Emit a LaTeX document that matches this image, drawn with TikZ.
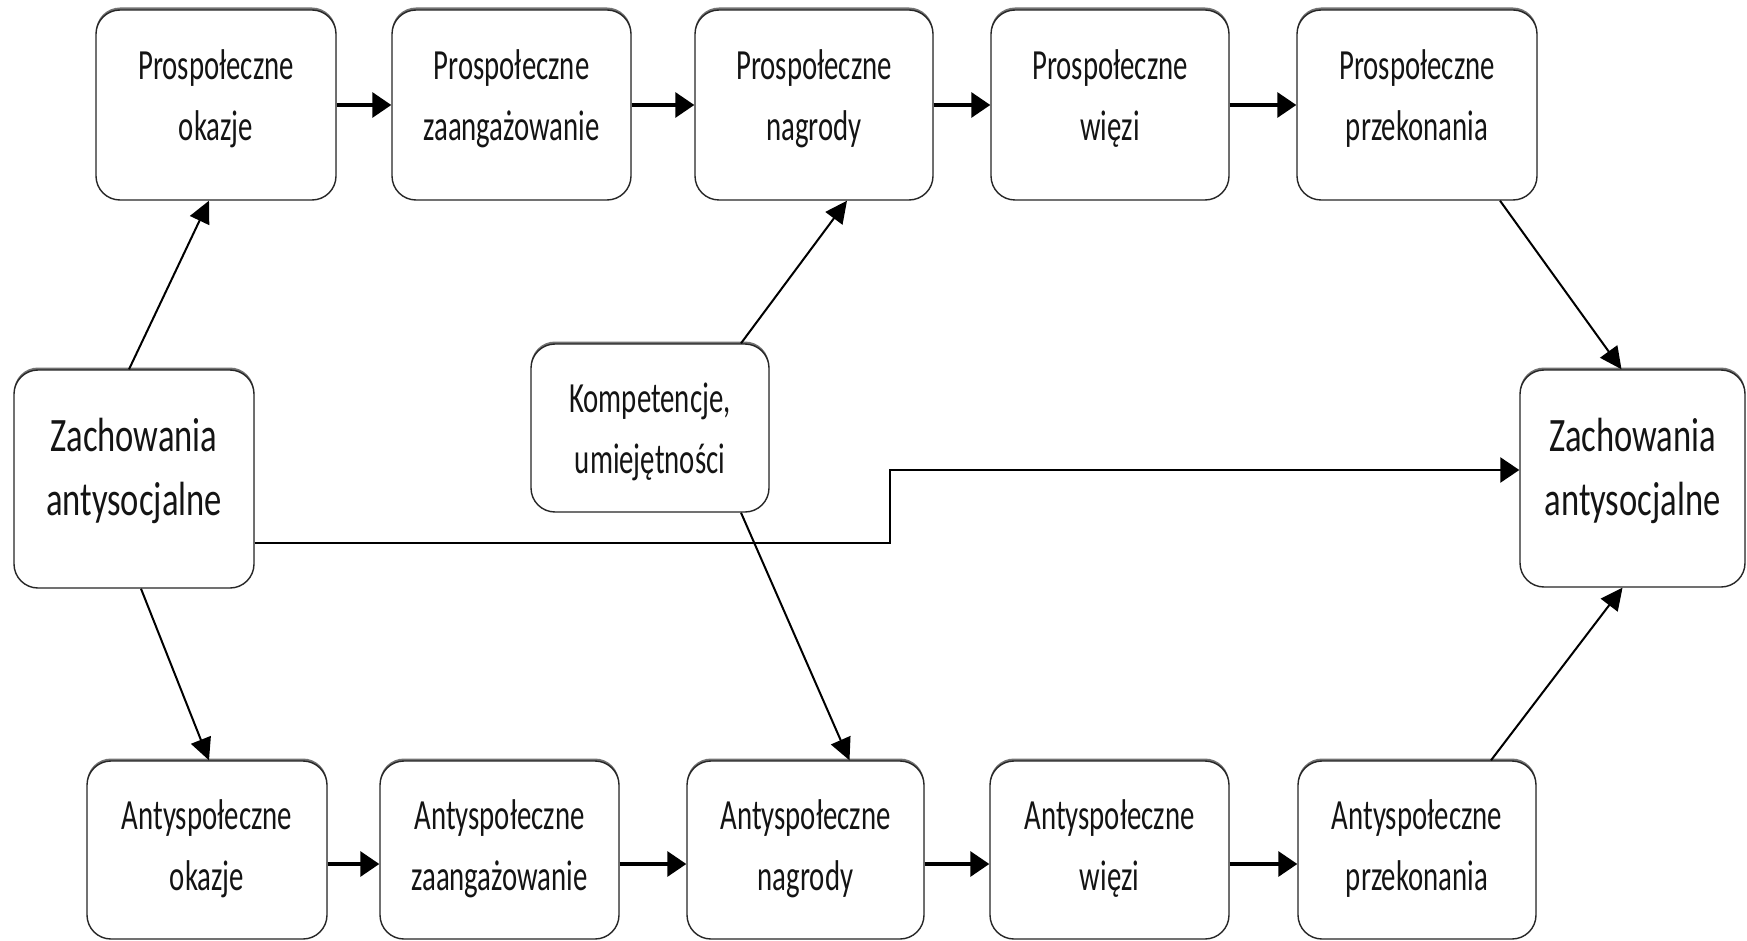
\documentclass[tikz,border=0pt]{standalone}
\usepackage{fontspec}
\setmainfont{Carlito}
\newfontfamily\boxfont{Carlito}[FakeStretch=0.67]
\newfontfamily\bigboxfont{Carlito}[FakeStretch=0.72]
\usetikzlibrary{arrows.meta,shadows}

\tikzset{
  box/.style={draw=black!85, line width=1.4pt, fill=white, rounded corners=24pt,
    inner sep=0pt,
    drop shadow={shadow xshift=0pt, shadow yshift=2.5pt, fill=black!55, opacity=1}},
  txt/.style={align=center, inner sep=0pt, text=black!92,
    font=\boxfont\fontsize{43}{61}\selectfont},
  bigtxt/.style={txt, font=\bigboxfont\fontsize{48}{64}\selectfont},
  harr/.style={-{Triangle[length=19pt,width=25pt]}, line width=3.2pt, black},
  darr/.style={-{Triangle[length=22pt,width=21pt]}, line width=2pt, black},
  larr/.style={-{Triangle[length=19pt,width=25pt]}, line width=2.6pt, black},
}

\begin{document}
\begin{tikzpicture}[x=1pt, y=-1pt]
\useasboundingbox (0,0) rectangle (1747,941);

% upper chain: prosocial path
\node[box, minimum width=240pt, minimum height=190pt] (p1) at (216,105) {};
\node[box, minimum width=239pt, minimum height=190pt] (p2) at (511.5,105) {};
\node[box, minimum width=238pt, minimum height=190pt] (p3) at (814,105) {};
\node[box, minimum width=238pt, minimum height=190pt] (p4) at (1110,105) {};
\node[box, minimum width=240pt, minimum height=190pt] (p5) at (1417,105) {};
\node[txt] (p1t) at ([yshift=6pt]p1.center) {Prospołeczne\\okazje};
\node[txt] (p2t) at ([yshift=6pt]p2.center) {Prospołeczne\\zaangażowanie};
\node[txt] (p3t) at ([yshift=6pt]p3.center) {Prospołeczne\\nagrody};
\node[txt] (p4t) at ([yshift=6pt]p4.center) {Prospołeczne\\więzi};
\node[txt] (p5t) at ([yshift=6pt]p5.center) {Prospołeczne\\przekonania};

% lower chain: antisocial path
\node[box, minimum width=240pt, minimum height=178pt] (a1) at (207,850) {};
\node[box, minimum width=239pt, minimum height=178pt] (a2) at (499.5,850) {};
\node[box, minimum width=237pt, minimum height=178pt] (a3) at (805.5,850) {};
\node[box, minimum width=239pt, minimum height=178pt] (a4) at (1109.5,850) {};
\node[box, minimum width=238pt, minimum height=178pt] (a5) at (1417,850) {};
\node[txt] (a1t) at ([yshift=1pt]a1.center) {Antyspołeczne\\okazje};
\node[txt] (a2t) at ([yshift=1pt]a2.center) {Antyspołeczne\\zaangażowanie};
\node[txt] (a3t) at ([yshift=1pt]a3.center) {Antyspołeczne\\nagrody};
\node[txt] (a4t) at ([yshift=1pt]a4.center) {Antyspołeczne\\więzi};
\node[txt] (a5t) at ([yshift=1pt]a5.center) {Antyspołeczne\\przekonania};

% middle row
\node[box, minimum width=240pt, minimum height=218pt] (zl) at (134,479) {};
\node[box, minimum width=238pt, minimum height=168pt] (k) at (650,428) {};
\node[box, minimum width=225pt, minimum height=217pt] (zr) at (1632.5,478.5) {};
\node[bigtxt] (zlt) at ([yshift=8pt]zl.center) {Zachowania\\antysocjalne};
\node[txt] (kt) at ([yshift=-4pt]k.center) {Kompetencje,\\umiejętności};
\node[bigtxt] (zrt) at ([yshift=8pt]zr.center) {Zachowania\\antysocjalne};

% chains
\draw[harr] (p1.east) -- (p2.west);
\draw[harr] (p2.east) -- (p3.west);
\draw[harr] (p3.east) -- (p4.west);
\draw[harr] (p4.east) -- (p5.west);
\draw[harr] ([yshift=-14pt]a1.east) -- ([yshift=-14pt]a2.west);
\draw[harr] ([yshift=-14pt]a2.east) -- ([yshift=-14pt]a3.west);
\draw[harr] ([yshift=-14pt]a3.east) -- ([yshift=-14pt]a4.west);
\draw[harr] ([yshift=-14pt]a4.east) -- ([yshift=-14pt]a5.west);

% branches
\draw[darr] ([xshift=-5pt]zl.north) -- ([xshift=-7pt]p1.south);
\draw[darr] ([xshift=7pt]zl.south) -- ([xshift=2pt]a1.north);
\draw[darr] ([xshift=91pt]k.north) -- ([xshift=33pt]p3.south);
\draw[darr] ([xshift=91pt]k.south) -- ([xshift=44pt]a3.north);
\draw[darr] ([xshift=83pt]p5.south) -- ([xshift=-11pt]zr.north);
\draw[darr] ([xshift=74pt]a5.north) -- ([xshift=-10pt]zr.south);

% direct path
\coordinate (elb) at (890,470);
\draw[larr] ([yshift=-64pt]zl.east) -| (elb) -- (zr.west |- elb);
\end{tikzpicture}
\end{document}
